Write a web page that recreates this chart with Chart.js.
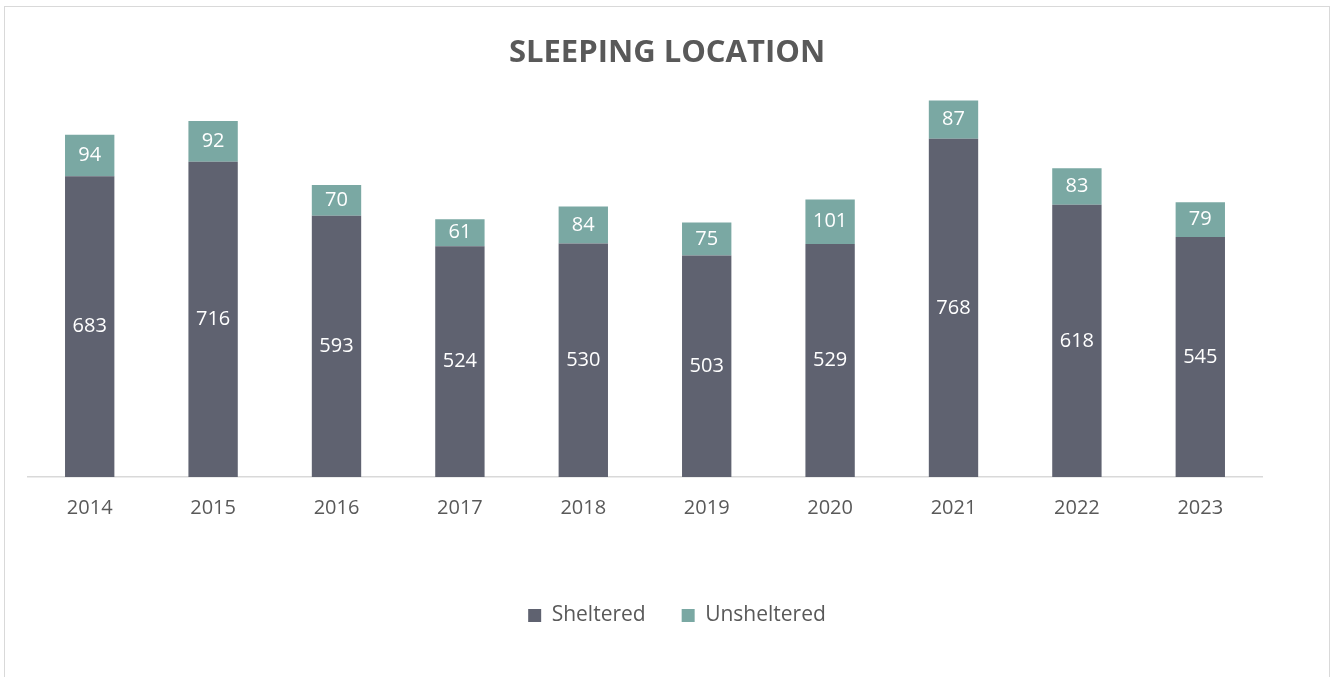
<!DOCTYPE html>
<html>
<head>
<meta charset="utf-8">
<script src="https://cdn.jsdelivr.net/npm/chart.js@4.4.0/dist/chart.umd.min.js"></script>
<style>
  html, body { margin: 0; padding: 0; background: #ffffff; overflow: hidden; }
  #wrap { position: absolute; left: 0; top: 0; width: 1331px; height: 677px; }
  #frame { position: absolute; left: 4px; top: 6px; width: 1324px; height: 700px; border: 1px solid #d9d9d9; box-sizing: content-box; pointer-events: none; }
  canvas { position: absolute; left: 0; top: 0; }
</style>
</head>
<body>
<div id="wrap">
  <canvas id="c" width="1331" height="677"></canvas>
  <div id="frame"></div>
</div>
<script>
const categories = ['2014', '2015', '2016', '2017', '2018', '2019', '2020', '2021', '2022', '2023'];
const sheltered = [683, 716, 593, 524, 530, 503, 529, 768, 618, 545];
const unsheltered = [94, 92, 70, 61, 84, 75, 101, 87, 83, 79];
const seriesNames = ['Sheltered', 'Unsheltered'];
const titleText = 'SLEEPING LOCATION';

const FONT = "'Open Sans', 'Noto Sans', sans-serif";

const barLabels = {
  id: 'barLabels',
  afterDatasetsDraw(chart) {
    const ctx = chart.ctx;
    ctx.save();
    ctx.fillStyle = '#ffffff';
    ctx.font = '20px ' + FONT;
    ctx.textAlign = 'center';
    ctx.textBaseline = 'middle';
    chart.data.datasets.forEach((ds, di) => {
      const meta = chart.getDatasetMeta(di);
      meta.data.forEach((bar, i) => {
        const p = bar.getProps(['x', 'y', 'base'], true);
        const cy = (p.y + p.base) / 2;
        ctx.fillText(String(ds.data[i]), p.x, cy);
      });
    });
    ctx.restore();
  }
};

// Centre title and legend on the whole frame rather than on the plot area
const recentre = {
  id: 'recentre',
  afterLayout(chart) {
    const shiftTitle = 22;
    const shiftLegend = 32;
    if (chart.titleBlock) { chart.titleBlock.left += shiftTitle; chart.titleBlock.right += shiftTitle; }
    if (chart.legend) { chart.legend.left += shiftLegend; chart.legend.right += shiftLegend; }
  }
};

new Chart(document.getElementById('c'), {
  type: 'bar',
  data: {
    labels: categories,
    datasets: [
      { label: seriesNames[0], data: sheltered, backgroundColor: '#5f6270', borderWidth: 0 },
      { label: seriesNames[1], data: unsheltered, backgroundColor: '#7aa8a3', borderWidth: 0 }
    ]
  },
  options: {
    responsive: false,
    animation: false,
    devicePixelRatio: 1,
    layout: { padding: { left: 28, right: 69, top: 0, bottom: 41 } },
    datasets: { bar: { categoryPercentage: 1.0, barPercentage: 0.4 } },
    scales: {
      x: {
        stacked: true,
        grid: { display: false, drawTicks: false },
        border: { display: true, color: '#d9d9d9', width: 1.5 },
        ticks: { color: '#595959', font: { family: FONT, size: 20 }, padding: 19 },
        afterFit(scale) { scale.height = 92; }
      },
      y: {
        stacked: true,
        display: false,
        min: 0,
        max: 900
      }
    },
    plugins: {
      title: {
        display: true,
        text: titleText,
        color: '#595959',
        font: { family: FONT, size: 31, weight: 'bold' },
        padding: { top: 34.4, bottom: 9 }
      },
      legend: {
        position: 'bottom',
        labels: {
          color: '#595959',
          font: { family: FONT, size: 21 },
          boxWidth: 13,
          boxHeight: 13,
          padding: 36
        }
      },
      tooltip: { enabled: false }
    }
  },
  plugins: [barLabels, recentre]
});
</script>
</body>
</html>
